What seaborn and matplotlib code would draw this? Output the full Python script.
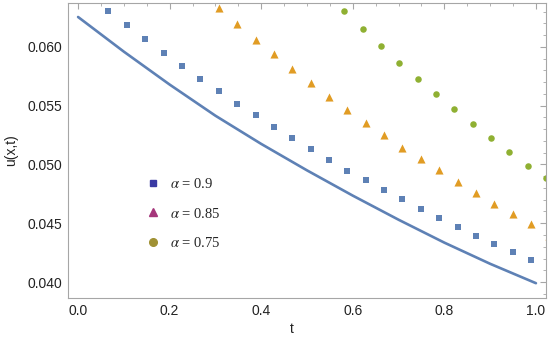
import numpy as np
import pandas as pd
import matplotlib
matplotlib.use("Agg")
import matplotlib.pyplot as plt
from matplotlib.lines import Line2D
import seaborn as sns

sns.set_style("white")
plt.rcParams["font.family"] = ["Liberation Sans", "DejaVu Sans"]
plt.rcParams["mathtext.fontset"] = "stix"

# exact solution (solid line)
t_line = [0.0, 0.1, 0.2, 0.3, 0.4, 0.5, 0.6, 0.7, 0.8, 0.9, 1.0]
u_line = [0.06255, 0.05960, 0.05680, 0.05415, 0.05175, 0.04950, 0.04735, 0.04530, 0.04335, 0.04155, 0.03990]

# alpha = 0.9 (squares)
t_a09 = [0.066, 0.106, 0.146, 0.187, 0.227, 0.267, 0.307, 0.347, 0.388, 0.428, 0.468, 0.508,
         0.548, 0.588, 0.628, 0.668, 0.708, 0.749, 0.789, 0.829, 0.869, 0.909, 0.949, 0.989, 1.029]
u_a09 = [0.06306, 0.06187, 0.06068, 0.05949, 0.05838, 0.05728, 0.05626, 0.05515, 0.05421,
         0.05319, 0.05226, 0.05132, 0.05038, 0.04945, 0.04868, 0.04783, 0.04706, 0.04621,
         0.04545, 0.04468, 0.04391, 0.04323, 0.04255, 0.04187, 0.04119]

# alpha = 0.85 (triangles)
t_a085 = [0.307, 0.347, 0.388, 0.428, 0.468, 0.508, 0.548, 0.588, 0.628, 0.668, 0.708, 0.749,
          0.789, 0.829, 0.869, 0.909, 0.949, 0.989, 1.029]
u_a085 = [0.06332, 0.06196, 0.06060, 0.05940, 0.05813, 0.05694, 0.05574, 0.05464, 0.05353,
          0.05251, 0.05140, 0.05047, 0.04949, 0.04851, 0.04757, 0.04664, 0.04579, 0.04494, 0.04391]

# alpha = 0.75 (circles)
t_a075 = [0.581, 0.622, 0.662, 0.701, 0.742, 0.782, 0.821, 0.862, 0.902, 0.941, 0.983, 1.022]
u_a075 = [0.06306, 0.06153, 0.06009, 0.05864, 0.05728, 0.05600, 0.05472, 0.05345, 0.05226,
          0.05106, 0.04987, 0.04885]

labels = [r"$\alpha$ = 0.9", r"$\alpha$ = 0.85", r"$\alpha$ = 0.75"]

blue, orange, green = "#5E81B5", "#E19C24", "#8FB032"
frame = "#A6A6A6"

fig = plt.figure(figsize=(5.5, 3.41), dpi=100)
ax = fig.add_axes([68 / 550, 43 / 341, 478 / 550, 295 / 341])

sns.lineplot(x=t_line, y=u_line, ax=ax, color=blue, linewidth=1.9)
sns.scatterplot(x=t_a09, y=u_a09, ax=ax, marker="s", s=18, color=blue, linewidth=0)
sns.scatterplot(x=t_a085, y=u_a085, ax=ax, marker="^", s=34, color=orange, linewidth=0)
sns.scatterplot(x=t_a075, y=u_a075, ax=ax, marker="o", s=22, color=green, linewidth=0)

ax.set_xlim(-0.022, 1.022)
ax.set_ylim(0.03864, 0.06374)
ax.set_xticks([0.0, 0.2, 0.4, 0.6, 0.8, 1.0])
ax.set_xticklabels(["0.0", "0.2", "0.4", "0.6", "0.8", "1.0"])
ax.set_xticks(np.arange(0, 1.0001, 0.05), minor=True)
ax.set_yticks([0.040, 0.045, 0.050, 0.055, 0.060])
ax.set_yticklabels(["0.040", "0.045", "0.050", "0.055", "0.060"])
ax.set_yticks(np.arange(0.039, 0.0635, 0.001), minor=True)

for sp in ax.spines.values():
    sp.set_color(frame)
    sp.set_linewidth(0.8)
ax.tick_params(which="both", direction="in", top=True, right=True, color=frame,
               labelsize=10, labelcolor="#222222", pad=4)
ax.tick_params(which="major", length=4, width=0.8)
ax.tick_params(which="minor", length=2.3, width=0.6)

ax.set_xlabel("t", fontsize=10, color="#222222")
ax.set_ylabel("u(x,t)", fontsize=10, color="#222222")
ax.xaxis.set_label_coords(0.469, -0.08)
ax.yaxis.set_label_coords(-0.105, 0.5)

handles = [
    Line2D([], [], linestyle="", marker="s", markersize=3.8, color="#3A3AA3"),
    Line2D([], [], linestyle="", marker="^", markersize=6, color="#A5367B"),
    Line2D([], [], linestyle="", marker="o", markersize=5.5, color="#A09134"),
]
ax.legend(handles, labels, loc="upper left", bbox_to_anchor=(0.141, 0.445), frameon=False,
          prop={"family": "Liberation Serif", "size": 10.5},
          handlelength=1.0, handletextpad=0.7, labelspacing=1.07, borderaxespad=0.3)

fig.savefig("out.png", dpi=100)
